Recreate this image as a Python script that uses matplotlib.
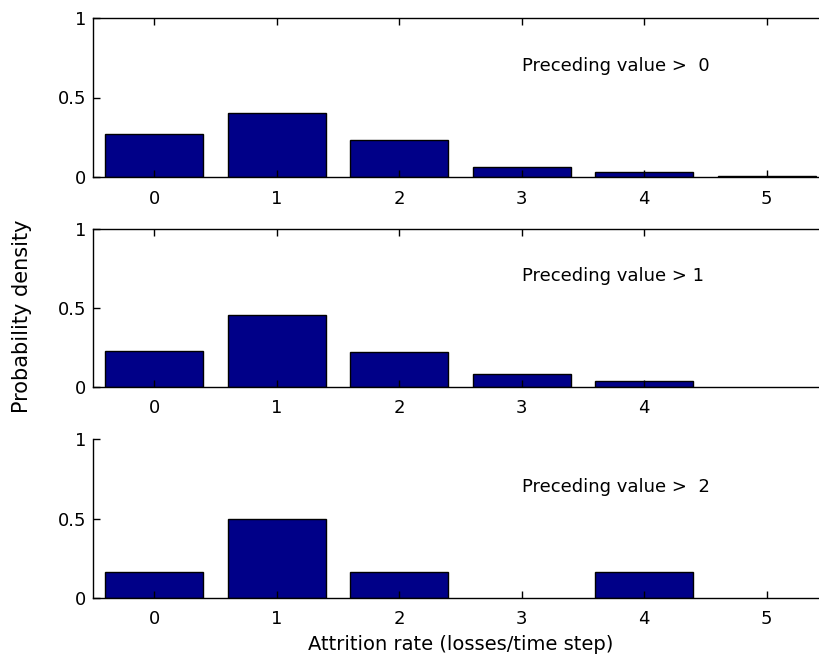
import matplotlib
matplotlib.use('Agg')
import matplotlib.pyplot as plt
import numpy as np

plt.rcParams['font.family'] = ['DejaVu Sans']

# attrition rate bins (losses / time step)
rates = [0, 1, 2, 3, 4, 5]
# probability density per bin, one list per condition
dens_gt0 = [0.27, 0.40, 0.233, 0.063, 0.03, 0.007]
dens_gt1 = [0.229, 0.455, 0.219, 0.083, 0.036]
dens_gt2 = [1/6, 0.5, 1/6, 0.0, 1/6, 0.0]
labels = ['Preceding value >  0', 'Preceding value > 1', 'Preceding value >  2']
xtick_sets = [[0, 1, 2, 3, 4, 5], [0, 1, 2, 3, 4], [0, 1, 2, 3, 4, 5]]

W, H = 819, 660
fig = plt.figure(figsize=(W/100, H/100), dpi=100)

# axes boxes in pixels: (top, bottom)
rows = [(18, 177), (229, 387), (439, 598)]
left_px, right_px = 93, 828

all_dens = [dens_gt0, dens_gt1, dens_gt2]
for i, (top, bot) in enumerate(rows):
    ax = fig.add_axes([left_px/W, 1 - bot/H, (right_px-left_px)/W, (bot-top)/H])
    d = np.array(all_dens[i])
    x = np.array(rates[:len(d)])
    keep = d > 0   # empty bins show no bar
    ax.bar(x[keep], d[keep], width=0.8, color='#000088', edgecolor='black', linewidth=1)
    ax.set_xlim(-0.5, 5.5)
    ax.set_ylim(0, 1)
    ax.set_yticks([0, 0.5, 1])
    ax.set_yticklabels(['0', '0.5', '1'])
    ax.set_xticks(xtick_sets[i])
    ax.tick_params(direction='in', length=5, width=1, labelsize=13,
                   top=(i < 2), right=False)
    ax.tick_params(axis='x', pad=9)
    ax.tick_params(axis='y', pad=5)
    ax.spines['right'].set_visible(False)
    if i == 2:
        ax.spines['top'].set_visible(False)
    for s in ax.spines.values():
        s.set_linewidth(1)
    ax.text(3.0, 0.70, labels[i], fontsize=13, ha='left', va='center')
    if i == 2:
        ax.set_xlabel('Attrition rate (losses/time step)', fontsize=14, labelpad=5)

fig.text(22/W, 1 - 316/H, 'Probability density', rotation=90, fontsize=15,
         ha='center', va='center')

plt.savefig('out.png', dpi=100)
